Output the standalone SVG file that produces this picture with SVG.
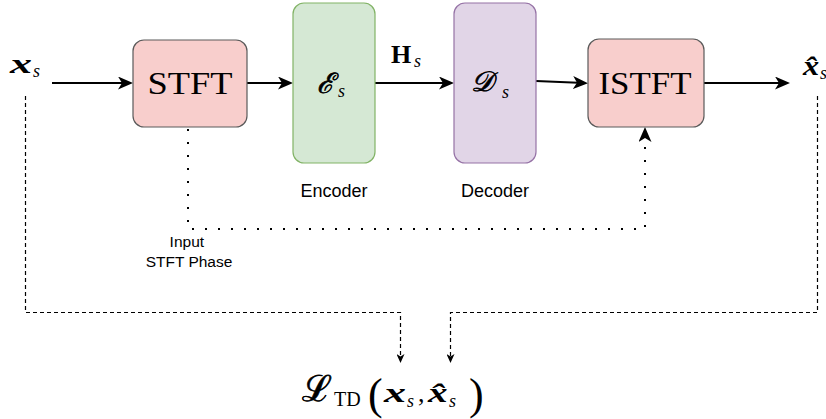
<svg xmlns="http://www.w3.org/2000/svg" width="826" height="419" viewBox="0 0 826 419">
  <style>
    .box { stroke-width: 1.2; }
    .stft { fill: #f8cecc; stroke: #5a5a5a; }
    .enc { fill: #d5e8d4; stroke: #82b366; }
    .dec { fill: #e1d5e7; stroke: #9673a6; }
    .math { font-family: "Liberation Serif", "DejaVu Serif", serif; fill: #000; }
    .bi { font-weight: bold; font-style: italic; }
    .it { font-style: italic; }
    .cal { stroke: #000; stroke-width: 0.7; }
    .lbl { font-family: "Liberation Sans", Arial, sans-serif; fill: #000; }
    .solid { fill: none; stroke: #000; stroke-width: 2; }
    .dotted { fill: none; stroke: #000; stroke-width: 2; stroke-dasharray: 2 11; }
    .dashed { fill: none; stroke: #000; stroke-width: 1.2; stroke-dasharray: 4 3; }
  </style>
  <defs>
    <marker id="arrow" viewBox="0 0 15 13" refX="11" refY="6.5" markerWidth="15" markerHeight="13" orient="auto" markerUnits="userSpaceOnUse">
      <path d="M0,0 L15,6.5 L0,13 L4,6.5 Z" fill="#000"/>
    </marker>
    <marker id="arrowSmall" viewBox="0 0 9 8" refX="6" refY="4" markerWidth="9" markerHeight="8" orient="auto" markerUnits="userSpaceOnUse">
      <path d="M0,0 L9,4 L0,8 L2.5,4 Z" fill="#000"/>
    </marker>
  </defs>

  <!-- connectors -->
  <g id="connectors">
    <path class="solid" d="M52,83 H129" marker-end="url(#arrow)"/>
    <path class="solid" d="M247,83 H289" marker-end="url(#arrow)"/>
    <path class="solid" d="M375,83 H450" marker-end="url(#arrow)"/>
    <path class="solid" d="M536,81 L584,83" marker-end="url(#arrow)"/>
    <path class="solid" d="M704,83 H786" marker-end="url(#arrow)"/>
    <!-- phase bypass -->
    <path class="dotted" d="M188,129 V229 H645 V131" marker-end="url(#arrow)"/>
    <!-- loss inputs -->
    <path class="dashed" d="M25.5,96 V312.5 H400.5 V360" marker-end="url(#arrowSmall)"/>
    <path class="dashed" d="M817.5,96 V312.5 H450.5 V360" marker-end="url(#arrowSmall)"/>
  </g>

  <g id="input-label">
    <text class="math bi" x="10" y="73" font-size="27" textLength="22" lengthAdjust="spacingAndGlyphs">x</text>
    <text class="math it" x="33" y="77" font-size="18">s</text>
  </g>

  <g id="stft">
    <rect class="box stft" x="133" y="40" width="114" height="87" rx="11"/>
    <text class="math" x="190" y="94" font-size="32" text-anchor="middle" textLength="85" lengthAdjust="spacingAndGlyphs">STFT</text>
  </g>

  <g id="encoder">
    <rect class="box enc" x="293" y="3" width="82" height="160" rx="11"/>
    <text class="math it cal" x="317" y="93" font-size="28" font-family="DejaVu Serif">ℰ</text>
    <text class="math it" x="338" y="97" font-size="18">s</text>
    <text class="lbl" x="334" y="197" font-size="18" text-anchor="middle">Encoder</text>
  </g>

  <g id="latent-label">
    <text class="math" x="391" y="63" font-size="26" font-weight="bold">H</text>
    <text class="math it" x="414" y="67" font-size="18">s</text>
  </g>

  <g id="decoder">
    <rect class="box dec" x="454" y="3" width="82" height="160" rx="11"/>
    <text class="math it cal" x="471" y="91" font-size="28" font-family="DejaVu Serif">𝒟</text>
    <text class="math it" x="502" y="98" font-size="18">s</text>
    <text class="lbl" x="495" y="197" font-size="18" text-anchor="middle">Decoder</text>
  </g>

  <g id="istft">
    <rect class="box stft" x="588" y="39" width="116" height="88" rx="11"/>
    <text class="math" x="645" y="94" font-size="32" text-anchor="middle" textLength="93" lengthAdjust="spacingAndGlyphs">ISTFT</text>
  </g>

  <g id="output-label">
    <text class="math bi" transform="translate(803,75) scale(1.2,1)" font-size="27">x̂</text>
    <text class="math it" x="820" y="79" font-size="18">s</text>
  </g>

  <g id="phase-label">
    <text class="lbl" font-size="15.5" text-anchor="middle">
      <tspan x="189" y="247">Input</tspan>
      <tspan x="189" y="267">STFT Phase</tspan>
    </text>
  </g>

  <g id="loss">
    <text class="math cal" x="302" y="401" font-size="36" font-family="DejaVu Serif">ℒ</text>
    <text class="math" x="334" y="406" font-size="20">TD</text>
    <text class="math" x="368" y="409" font-size="44">(</text>
    <text class="math bi" x="384" y="402" font-size="28" textLength="22" lengthAdjust="spacingAndGlyphs">x</text>
    <text class="math it" x="407" y="407" font-size="18">s</text>
    <text class="math" x="418" y="402" font-size="26">,</text>
    <text class="math bi" transform="translate(428,402) scale(1.4,1)" font-size="28">x̂</text>
    <text class="math it" x="449" y="407" font-size="18">s</text>
    <text class="math" x="469" y="409" font-size="44">)</text>
  </g>
</svg>
